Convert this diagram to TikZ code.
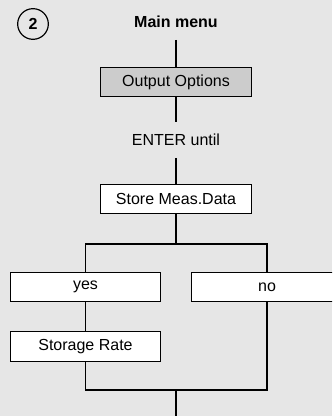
\documentclass[tikz,border=0pt]{standalone}
\usepackage{fontspec}
\setmainfont{Liberation Sans}
\definecolor{panelgray}{HTML}{E6E6E6}
\definecolor{boxgray}{HTML}{CCCCCC}

\begin{document}
\begin{tikzpicture}[
  x=0.75pt, y=-0.75pt,
  line width=0.9pt,
  every node/.style={font=\fontsize{12}{14}\selectfont},
  menubox/.style={draw, fill=white, minimum width=113pt, minimum height=22pt, inner sep=0pt},
  caption/.style={minimum height=26pt, inner sep=0pt},
  badge/.style={draw, circle, minimum size=23pt, inner sep=0pt, font=\fontsize{12}{14}\selectfont\bfseries}
]
  \clip (0,0) rectangle (332,416);
  \fill[panelgray] (0,0) rectangle (332,416);

  \node[badge] (step2) at (33,24) {2};
  \node[caption, font=\fontsize{12}{14}\selectfont\bfseries] (title) at (176,22) {Main menu};
  \node[menubox, fill=boxgray] (output) at (176,82) {Output Options};
  \node[caption] (enter) at (176,140) {ENTER until};
  \node[menubox] (store) at (176,199) {Store Meas.Data};
  \node[menubox] (yes) at (85.5,287) {yes};
  \node[menubox] (no) at (267,287) {no};
  \node[menubox] (rate) at (85.5,346.5) {Storage Rate};

  \coordinate (split) at (176,244);
  \coordinate (join) at (176,390);
  \coordinate (exit) at (176,420);

  \draw (title) -- (output);
  \draw (output) -- (enter);
  \draw (enter) -- (store);
  \draw (store) -- (split);
  \draw (split) -| (yes);
  \draw (split) -| (no);
  \draw (yes) -- (rate);
  \draw (rate) |- (join);
  \draw (no) |- (join);
  \draw (join) -- (exit);
\end{tikzpicture}
\end{document}
